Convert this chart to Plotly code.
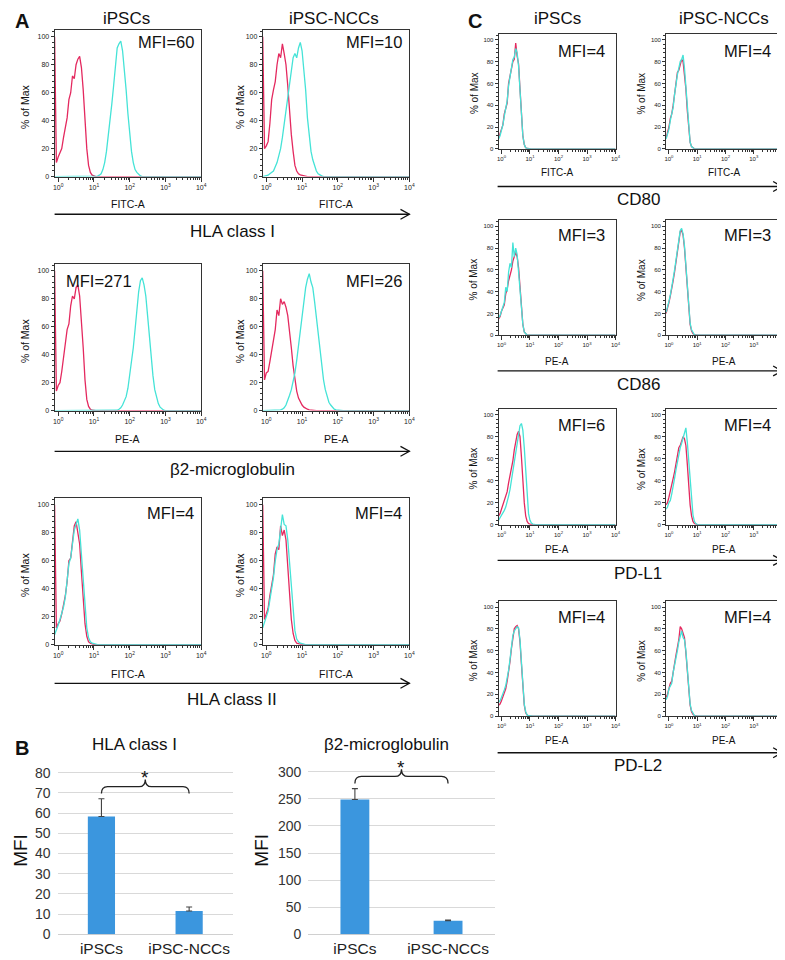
import plotly.graph_objects as go

W, H = 785, 960
FONT = "Arial, Liberation Sans, sans-serif"
RED = "#e4295f"
CYAN = "#45e3d7"
BAR = "#3b96de"

# ---------------- histogram data (% of Max, bins of 0.05 log10 units from 10^-0.1) ----------------
LOG_MIN = -0.1
BIN_STEP = 0.05
N_BINS = 83

# Panel A (first value of red = off-scale pile-up bin on the left edge)
HLA1_IPSC_RED_START = -0.1
HLA1_IPSC_RED = [100, 10, 14, 17, 20, 28, 36, 42, 55, 60, 72, 70, 80, 84, 86, 78, 62, 40, 20, 8, 3, 1, 0.3, 0]
HLA1_IPSC_CYAN_START = 1.1
HLA1_IPSC_CYAN = [0.3, 1, 2, 5, 10, 18, 28, 40, 52, 65, 80, 92, 95, 97, 90, 78, 62, 45, 30, 18, 10, 5, 3, 1.5, 0.5, 0]

HLA1_NCC_RED_START = -0.1
HLA1_NCC_RED = [100, 20, 22, 25, 38, 55, 62, 68, 80, 88, 85, 95, 88, 80, 65, 45, 30, 18, 8, 4, 2, 1.2, 0.8, 0.5, 0.3, 0]
HLA1_NCC_CYAN_START = -0.1
HLA1_NCC_CYAN = [0, 0.3, 0.6, 1, 2, 3, 4, 7, 10, 15, 20, 28, 38, 46, 55, 65, 75, 85, 88, 85, 92, 96, 90, 78, 62, 42,
                 28, 18, 12, 7, 4, 2, 1, 0.5, 0]

B2M_IPSC_RED_START = -0.1
B2M_IPSC_RED = [100, 14, 18, 20, 28, 38, 45, 58, 62, 75, 82, 80, 88, 90, 82, 65, 45, 22, 8, 3, 1, 0.3, 0]
B2M_IPSC_CYAN_START = 1.65
B2M_IPSC_CYAN = [0.3, 1, 2, 4, 7, 10, 16, 25, 35, 45, 58, 75, 85, 93, 95, 90, 82, 68, 52, 38, 25, 15, 9, 5, 2.5, 1,
                 0.3, 0]

B2M_NCC_RED_START = -0.1
B2M_NCC_RED = [100, 22, 27, 28, 35, 42, 50, 58, 72, 68, 80, 76, 78, 74, 68, 58, 45, 32, 22, 14, 9, 6, 4, 2.5, 1.5, 1,
               0.5, 0.3, 0]
B2M_NCC_CYAN_START = 0.35
B2M_NCC_CYAN = [0, 0.5, 1, 2, 4, 7, 11, 15, 20, 27, 36, 47, 58, 68, 78, 88, 94, 98, 92, 88, 78, 66, 54, 42, 32, 22, 15,
                10, 6, 4, 2, 1, 0.5, 0.3, 0]

HLA2_IPSC_RED_START = -0.1
HLA2_IPSC_RED = [100, 12, 15, 17, 22, 28, 35, 45, 60, 62, 75, 85, 88, 80, 72, 52, 30, 15, 6, 2, 1, 0.3, 0]
HLA2_IPSC_CYAN_START = -0.1
HLA2_IPSC_CYAN = [7, 10, 14, 18, 22, 27, 34, 44, 58, 62, 74, 82, 86, 90, 82, 65, 45, 25, 12, 5, 2, 1, 0.5, 0.2, 0]

HLA2_NCC_RED_START = -0.1
HLA2_NCC_RED = [100, 18, 22, 26, 35, 42, 50, 65, 70, 68, 85, 78, 82, 75, 55, 35, 18, 8, 3, 1, 0.5, 0.2, 0]
HLA2_NCC_CYAN_START = -0.1
HLA2_NCC_CYAN = [12, 16, 20, 24, 32, 40, 48, 60, 68, 72, 82, 93, 86, 85, 75, 58, 40, 22, 10, 4, 2, 1, 0.5, 0.2, 0]

# Panel C
CD80_IPSC_RED = [10, 14, 18, 22, 32, 38, 42, 60, 68, 72, 80, 82, 97, 85, 78, 55, 32, 12, 4, 1, 0.3, 0]
CD80_IPSC_CYAN = [9, 12, 17, 22, 30, 36, 44, 58, 66, 74, 82, 84, 92, 88, 76, 54, 30, 12, 4, 1, 0.3, 0]
CD80_NCC_RED = [10, 14, 20, 28, 32, 40, 52, 64, 70, 72, 78, 82, 80, 70, 55, 35, 18, 6, 2, 0.5, 0]
CD80_NCC_CYAN = [9, 13, 18, 26, 33, 38, 50, 62, 68, 74, 80, 82, 86, 74, 58, 36, 18, 6, 2, 0.5, 0]

CD86_IPSC_RED = [15, 17, 22, 25, 28, 38, 42, 50, 55, 60, 68, 72, 76, 72, 62, 45, 25, 10, 3, 1, 0]
CD86_IPSC_CYAN = [16, 18, 22, 26, 30, 44, 40, 58, 66, 62, 85, 72, 80, 74, 58, 46, 26, 10, 3, 1, 0]
CD86_NCC_RED = [20, 24, 30, 36, 42, 50, 58, 68, 78, 88, 95, 96, 92, 80, 62, 40, 22, 10, 4, 1.5, 0.5, 0]
CD86_NCC_CYAN = [21, 25, 31, 37, 43, 52, 60, 70, 80, 90, 96, 98, 93, 82, 63, 42, 24, 11, 5, 2, 0.5, 0]

PDL1_IPSC_RED = [8, 10, 14, 18, 22, 26, 30, 38, 45, 50, 58, 68, 76, 82, 85, 80, 62, 40, 20, 8, 3, 1, 0.3, 0]
PDL1_IPSC_CYAN = [4, 6, 8, 10, 13, 16, 20, 26, 32, 40, 48, 56, 66, 76, 84, 90, 92, 86, 70, 48, 25, 10, 4, 1.5, 0.5, 0]
PDL1_NCC_RED = [18, 20, 25, 30, 35, 42, 48, 55, 62, 70, 72, 76, 80, 78, 72, 55, 35, 18, 8, 3, 1, 0.3, 0]
PDL1_NCC_CYAN = [14, 16, 20, 22, 28, 34, 42, 50, 58, 66, 70, 74, 78, 84, 88, 75, 58, 38, 20, 9, 3, 1, 0.3, 0]

PDL2_IPSC_RED = [10, 11, 14, 18, 22, 25, 32, 40, 50, 62, 72, 80, 82, 83, 80, 68, 48, 26, 10, 3, 1, 0.3, 0]
PDL2_IPSC_CYAN = [13, 14, 17, 20, 24, 28, 34, 42, 52, 64, 74, 78, 80, 82, 81, 70, 50, 28, 11, 4, 1, 0.3, 0]
PDL2_NCC_RED = [17, 20, 25, 30, 32, 42, 48, 56, 62, 70, 82, 80, 76, 72, 58, 40, 22, 10, 4, 1.5, 0.5, 0]
PDL2_NCC_CYAN = [15, 18, 25, 28, 30, 40, 46, 54, 60, 68, 74, 78, 72, 70, 60, 42, 24, 11, 5, 2, 0.5, 0]

A_MFI = [["MFI=60", "MFI=10"], ["MFI=271", "MFI=26"], ["MFI=4", "MFI=4"]]
A_MARKERS = ["HLA class I", "β2-microglobulin", "HLA class II"]
A_CHANNELS = ["FITC-A", "PE-A", "FITC-A"]
C_MFI = [["MFI=4", "MFI=4"], ["MFI=3", "MFI=3"], ["MFI=6", "MFI=4"], ["MFI=4", "MFI=4"]]
C_MARKERS = ["CD80", "CD86", "PD-L1", "PD-L2"]
C_CHANNELS = ["FITC-A", "PE-A", "PE-A", "PE-A"]
COLUMNS = ["iPSCs", "iPSC-NCCs"]

# Panel B bar data
CATS = ["iPSCs", "iPSC-NCCs"]
HLA1_MFI = [58.3, 11.5]
HLA1_ERR = [8.8, 2.0]
B2M_MFI = [249, 25]
B2M_ERR = [20, 1.2]
HLA1_TICKS = [0, 10, 20, 30, 40, 50, 60, 70, 80]
B2M_TICKS = [0, 50, 100, 150, 200, 250, 300]

X_TICKVALS = [1, 10, 100, 1000, 10000]
X_TICKTEXT = ["10<sup>0</sup>", "10<sup>1</sup>", "10<sup>2</sup>", "10<sup>3</sup>", "10<sup>4</sup>"]

# ---------------- helpers ----------------
BIN_X = [10 ** (LOG_MIN + BIN_STEP * i) for i in range(N_BINS)]
MINOR_X = [k * 10 ** d for d in range(4) for k in range(2, 10)]


def curve(start, vals):
    i0 = round((start - LOG_MIN) / BIN_STEP)
    ys = [0.0] * N_BINS
    for k, v in enumerate(vals):
        ys[i0 + k] = v
    return ys


def px(x):
    return x / W


def py(y):
    return 1 - y / H


fig = go.Figure()
layout = {}
annotations = []
shapes = []
n_axes = [0]


def text(x, y, s, size, xanchor="center", bold=False, angle=0, color="#111"):
    annotations.append(dict(x=px(x), y=py(y), xref="paper", yref="paper", text=f"<b>{s}</b>" if bold else s,
                            showarrow=False, xanchor=xanchor, yanchor="middle", textangle=angle,
                            font=dict(size=size, family=FONT, color=color)))


def arrow(x0, x1, y):
    shapes.append(dict(type="line", xref="paper", yref="paper", x0=px(x0), x1=px(x1), y0=py(y), y1=py(y),
                       line=dict(color="#111", width=1.3)))
    shapes.append(dict(type="path", xref="paper", yref="paper",
                       path=f"M {px(x1 - 9)},{py(y - 5)} L {px(x1)},{py(y)} L {px(x1 - 9)},{py(y + 5)}",
                       line=dict(color="#111", width=1.3)))


def hist(box, red, cyan, tickfs, ymax):
    n_axes[0] += 1
    n = n_axes[0]
    (x0, x1), (y0, y1) = box
    sx = "" if n == 1 else str(n)
    layout["xaxis" + sx] = dict(domain=[px(x0), px(x1)], type="log", range=[-0.1, 4.001], anchor="y" + sx,
                                showline=True, mirror=True, linecolor="#333", linewidth=1, showgrid=False,
                                zeroline=False, ticks="outside", ticklen=4, tickcolor="#333",
                                tickvals=X_TICKVALS, ticktext=X_TICKTEXT,
                                tickfont=dict(size=tickfs, family=FONT, color="#222"),
                                minor=dict(tickvals=MINOR_X, ticks="outside", ticklen=2, tickcolor="#333"),
                                fixedrange=True)
    layout["yaxis" + sx] = dict(domain=[py(y1), py(y0)], range=[0, ymax], anchor="x" + sx,
                                showline=True, mirror=True, linecolor="#333", linewidth=1, showgrid=False,
                                zeroline=False, ticks="outside", ticklen=3, tickcolor="#333",
                                tickvals=[0, 20, 40, 60, 80, 100],
                                tickfont=dict(size=tickfs, family=FONT, color="#222"),
                                minor=dict(dtick=4, ticks="outside", ticklen=2, tickcolor="#333"),
                                fixedrange=True)
    fig.add_trace(go.Scatter(x=BIN_X, y=red, mode="lines", line=dict(color=RED, width=1.3),
                             xaxis="x" + sx, yaxis="y" + sx, showlegend=False, hoverinfo="skip"))
    fig.add_trace(go.Scatter(x=BIN_X, y=cyan, mode="lines", line=dict(color=CYAN, width=1.3),
                             xaxis="x" + sx, yaxis="y" + sx, showlegend=False, hoverinfo="skip"))


# ---------------- Panel A ----------------
A_COLS = [(45, 193), (255, 403)]
A_ROWS = [(22, 170), (258, 406), (494, 642)]
A_CURVES = [
    [(curve(HLA1_IPSC_RED_START, HLA1_IPSC_RED), curve(HLA1_IPSC_CYAN_START, HLA1_IPSC_CYAN)),
     (curve(HLA1_NCC_RED_START, HLA1_NCC_RED), curve(HLA1_NCC_CYAN_START, HLA1_NCC_CYAN))],
    [(curve(B2M_IPSC_RED_START, B2M_IPSC_RED), curve(B2M_IPSC_CYAN_START, B2M_IPSC_CYAN)),
     (curve(B2M_NCC_RED_START, B2M_NCC_RED), curve(B2M_NCC_CYAN_START, B2M_NCC_CYAN))],
    [(curve(HLA2_IPSC_RED_START, HLA2_IPSC_RED), curve(HLA2_IPSC_CYAN_START, HLA2_IPSC_CYAN)),
     (curve(HLA2_NCC_RED_START, HLA2_NCC_RED), curve(HLA2_NCC_CYAN_START, HLA2_NCC_CYAN))],
]
A_LABEL_Y = [(198, 208, 225), (435, 447, 465), (672, 681, 697)]
A_MFI_Y = [34.5, 275, 509]
A_YLAB_X = [15, 232]

text(12, 13, "A", 20, bold=True)
text(118, 11, COLUMNS[0], 17)
text(327, 11, COLUMNS[1], 17)
for r in range(3):
    for c in range(2):
        red, cyan = A_CURVES[r][c]
        hist((A_COLS[c], A_ROWS[r]), red, cyan, 7, 105)
        xc = (A_COLS[c][0] + A_COLS[c][1]) / 2
        text(xc, A_LABEL_Y[r][0], A_CHANNELS[r], 10.5)
        text(A_YLAB_X[c], (A_ROWS[r][0] + A_ROWS[r][1]) / 2 + 3, "% of Max", 10.5, angle=-90)
        if r == 1 and c == 0:
            text(A_COLS[c][0] + 9, A_MFI_Y[r], A_MFI[r][c], 16.5, xanchor="left")
        else:
            text(A_COLS[c][1] - 5, A_MFI_Y[r], A_MFI[r][c], 16.5, xanchor="right")
    arrow(45, 403, A_LABEL_Y[r][1])
    text(224, A_LABEL_Y[r][2], A_MARKERS[r], 17)

# ---------------- Panel C ----------------
C_COLS = [(493, 611), (662, 779)]
C_ROWS = [(26, 142), (214, 330), (404, 521), (598, 714)]
C_CURVES = [
    [(curve(LOG_MIN, CD80_IPSC_RED), curve(LOG_MIN, CD80_IPSC_CYAN)),
     (curve(LOG_MIN, CD80_NCC_RED), curve(LOG_MIN, CD80_NCC_CYAN))],
    [(curve(LOG_MIN, CD86_IPSC_RED), curve(LOG_MIN, CD86_IPSC_CYAN)),
     (curve(LOG_MIN, CD86_NCC_RED), curve(LOG_MIN, CD86_NCC_CYAN))],
    [(curve(LOG_MIN, PDL1_IPSC_RED), curve(LOG_MIN, PDL1_IPSC_CYAN)),
     (curve(LOG_MIN, PDL1_NCC_RED), curve(LOG_MIN, PDL1_NCC_CYAN))],
    [(curve(LOG_MIN, PDL2_IPSC_RED), curve(LOG_MIN, PDL2_IPSC_CYAN)),
     (curve(LOG_MIN, PDL2_NCC_RED), curve(LOG_MIN, PDL2_NCC_CYAN))],
]
C_LABEL_Y = [(166, 180, 193), (356, 366, 380), (546, 557, 570), (739, 751, 764)]
C_MFI_Y = [43, 229, 420, 614]
C_YLAB_X = [468, 637]

text(469, 13, "C", 20, bold=True)
text(552, 11, COLUMNS[0], 17)
text(720, 11, COLUMNS[1], 17)
for r in range(4):
    for c in range(2):
        red, cyan = C_CURVES[r][c]
        hist((C_COLS[c], C_ROWS[r]), red, cyan, 6, 105.5)
        xc = (C_COLS[c][0] + C_COLS[c][1]) / 2
        text(xc, C_LABEL_Y[r][0], C_CHANNELS[r], 10)
        text(C_YLAB_X[c], (C_ROWS[r][0] + C_ROWS[r][1]) / 2 + 2, "% of Max", 10, angle=-90)
        text(C_COLS[c][1] - 9, C_MFI_Y[r], C_MFI[r][c], 16.5, xanchor="right")
    arrow(492, 779, C_LABEL_Y[r][1])
    text(634, C_LABEL_Y[r][2], C_MARKERS[r], 17)

# ---------------- Panel B ----------------
text(12, 746, "B", 20, bold=True)


def bars(xdom, ydom, values, errs, ticks, ymax, title, title_x, mfi_x):
    n_axes[0] += 1
    n = str(n_axes[0])
    layout["xaxis" + n] = dict(domain=[px(xdom[0]), px(xdom[1])], range=[-0.5, 1.5], anchor="y" + n,
                               tickvals=[0, 1], ticktext=CATS, showgrid=False, zeroline=False, showline=False,
                               ticks="", ticklabelstandoff=3,
                               tickfont=dict(size=15.5, family=FONT, color="#222"), fixedrange=True)
    layout["yaxis" + n] = dict(domain=[py(ydom[1]), py(ydom[0])], range=[0, ymax], anchor="x" + n,
                               tickvals=ticks, showgrid=True, gridcolor="#d9d9d9", gridwidth=1,
                               zeroline=True, zerolinecolor="#d0d0d0", zerolinewidth=1, showline=False,
                               ticks="", ticklabelstandoff=6,
                               tickfont=dict(size=14, family=FONT, color="#333"), fixedrange=True)
    fig.add_trace(go.Bar(x=[0, 1], y=values, width=0.31, marker=dict(color=BAR, line=dict(width=0)),
                         error_y=dict(type="data", array=errs, arrayminus=[0, 0], symmetric=False,
                                      color="#444", thickness=1.1, width=3),
                         xaxis="x" + n, yaxis="y" + n, showlegend=False, hoverinfo="skip"))
    # significance bracket placed above the tallest error bar
    top = max(v + e for v, e in zip(values, errs))
    span = ticks[-1]
    yb, yh, yn = top + 0.032 * span, top + 0.075 * span, top + 0.12 * span
    path = (f"M 0,{yb} Q 0,{yh} 0.07,{yh} L 0.43,{yh} Q 0.5,{yh} 0.5,{yn} "
            f"Q 0.5,{yh} 0.57,{yh} L 0.93,{yh} Q 1,{yh} 1,{yb}")
    shapes.append(dict(type="path", xref="x" + n, yref="y" + n, path=path,
                       line=dict(color="#222", width=1.3)))
    annotations.append(dict(x=0.5, y=yn, xref="x" + n, yref="y" + n, text="*", showarrow=False,
                            yanchor="middle", yshift=2, font=dict(size=19, family=FONT, color="#111")))
    text(title_x, 743, title, 17)
    text(mfi_x, 849, "MFI", 19, angle=-90)


bars((48, 225), (763, 934), HLA1_MFI, HLA1_ERR, HLA1_TICKS, 84, "HLA class I", 126, 11)
bars((301, 489), (761, 934), B2M_MFI, B2M_ERR, B2M_TICKS, 317, "β2-microglobulin", 380, 254)

fig.update_layout(width=W, height=H, margin=dict(l=0, r=0, t=0, b=0), paper_bgcolor="white",
                  plot_bgcolor="white", showlegend=False, annotations=annotations, shapes=shapes,
                  font=dict(family=FONT), **layout)
fig.write_html("out.html", include_plotlyjs=True, config={"displayModeBar": False})
